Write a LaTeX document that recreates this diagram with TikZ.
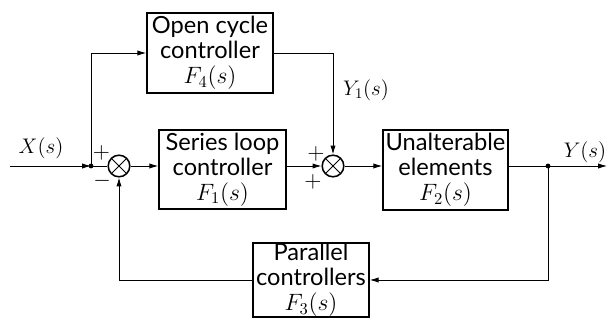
\documentclass[tikz,border=0pt]{standalone}
\usepackage{fix-cm}
\usepackage{fontspec}
\setmainfont{Lato}
\usepackage{tikz}
\usetikzlibrary{arrows.meta,positioning,calc}

\begin{document}
\begin{tikzpicture}[
  x=0.025cm, y=-0.025cm,
  box/.style={draw, line width=1.1pt, align=center, inner sep=0pt,
    font=\fontsize{16.8}{17.8}\selectfont},
  sum/.style={draw, circle, line width=1.1pt, minimum size=0.54cm, inner sep=0pt,
    path picture={\draw[line width=0.7pt]
      (path picture bounding box.north west) -- (path picture bounding box.south east)
      (path picture bounding box.south west) -- (path picture bounding box.north east);}},
  arrow/.style={-{Latex[length=2.2mm,width=1.3mm]}, line width=0.6pt},
  line/.style={line width=0.6pt},
  lbl/.style={font=\fontsize{15}{18}\selectfont, inner sep=0pt},
  sign/.style={font=\fontsize{16}{16}\selectfont, inner sep=0pt}
]
\useasboundingbox (0,0) rectangle (608,320);

% blocks
\node[box, minimum width=3.15cm, minimum height=2cm] (open) at (210,53)
  {Open cycle\\controller\\$F_4(s)$};
\node[box, minimum width=3.175cm, minimum height=1.975cm] (series) at (222.5,169.5)
  {Series loop\\controller\\$F_1(s)$};
\node[box, minimum width=3.125cm, minimum height=2cm] (plant) at (445.5,170)
  {Unalterable\\elements\\$F_2(s)$};
\node[box, minimum width=2.9cm, minimum height=1.85cm] (parallel) at (311,280)
  {Parallel\\controllers\\$F_3(s)$};

% summing points and branch points
\node[sum] (sum1) at (119,166) {};
\node[sum] (sum2) at (333,166) {};
\coordinate (input) at (10,166);
\coordinate (split) at (91,166);
\coordinate (tap) at (548,166);
\coordinate (output) at (607,166);

% signals
\node[lbl] (xs) at (41,148) {$X(s)$};
\node[lbl] (ys) at (585,152) {$Y(s)$};
\node[lbl] (y1s) at (366,90) {$Y_1(s)$};

% signs
\node[sign] (p1) at (101.5,153) {$+$};
\node[sign] (m1) at (102,181) {$-$};
\node[sign] (p2) at (316,154) {$+$};
\node[sign] (p3) at (313,182) {$+$};

\draw[arrow] (input) -- (split);
\draw[line] (split) -- (sum1);
\draw[arrow] (split) |- (open);
\draw[arrow] (sum1) -- (sum1 -| series.west);
\draw[arrow] (series.east |- sum2) -- (sum2);
\draw[arrow] (open) -| (sum2);
\draw[arrow] (sum2) -- (sum2 -| plant.west);
\draw[line] (plant.east |- tap) -- (tap);
\draw[arrow] (tap) -- (output);
\draw[arrow] (tap) |- (parallel);
\draw[arrow] (parallel) -| (sum1);
\fill (split) circle (1.7pt);
\fill (tap) circle (1.7pt);
\end{tikzpicture}
\end{document}
